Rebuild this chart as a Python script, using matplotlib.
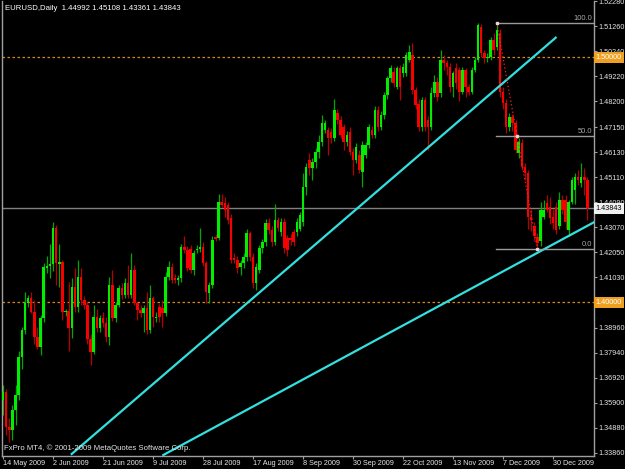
import numpy as np
import matplotlib.pyplot as plt
from matplotlib.transforms import blended_transform_factory

# EURUSD daily, 14 May 2009 - 15 Jan 2010
opens = [
    1.3600, 1.3636, 1.3493, 1.3480, 1.3561, 1.3622, 1.3779, 1.3888, 1.3996, 1.4020,
    1.3962, 1.3860, 1.3820, 1.3935, 1.4140, 1.4150, 1.4156, 1.4302, 1.4155, 1.4165,
    1.3960, 1.3966, 1.3895, 1.4064, 1.3983, 1.4105, 1.4010, 1.3990, 1.3850, 1.3799,
    1.3942, 1.3895, 1.3935, 1.3915, 1.3860, 1.4071, 1.3935, 1.3990, 1.4057, 1.4030,
    1.4078, 1.4030, 1.4132, 1.3996, 1.3969, 1.3955, 1.3976, 1.3888, 1.4017, 1.3935,
    1.3983, 1.3976, 1.3956, 1.4105, 1.4146, 1.4100, 1.4092, 1.4100, 1.4228, 1.4214,
    1.4220, 1.4133, 1.4214, 1.4220, 1.4228, 1.4160, 1.4037, 1.4071, 1.4269, 1.4262,
    1.4411, 1.4405, 1.4398, 1.4343, 1.4180, 1.4173, 1.4146, 1.4160, 1.4187, 1.4282,
    1.4187, 1.4078, 1.4133, 1.4221, 1.4248, 1.4323, 1.4296, 1.4248, 1.4337, 1.4289,
    1.4330, 1.4262, 1.4262, 1.4289, 1.4289, 1.4300, 1.4330, 1.4473, 1.4581, 1.4547,
    1.4574, 1.4615, 1.4656, 1.4704, 1.4704, 1.4697, 1.4670, 1.4772, 1.4744, 1.4717,
    1.4656, 1.4697, 1.4615, 1.4581, 1.4602, 1.4534, 1.4602, 1.4642, 1.4704, 1.4683,
    1.4785, 1.4717, 1.4765, 1.4846, 1.4914, 1.4942, 1.4880, 1.4955, 1.4935, 1.4935,
    1.4990, 1.5010, 1.4867, 1.4810, 1.4717, 1.4826, 1.4744, 1.4717, 1.4853, 1.4901,
    1.4853, 1.4990, 1.4976, 1.4962, 1.4880, 1.4955, 1.4948, 1.4860, 1.4948, 1.4880,
    1.4860, 1.4948, 1.4990, 1.5125, 1.5016, 1.4996, 1.5003, 1.5071, 1.5044, 1.5100,
    1.4860, 1.4812, 1.4717, 1.4758, 1.4731, 1.4608, 1.4649, 1.4554, 1.4527, 1.4350,
    1.4310, 1.4268, 1.4250, 1.4350, 1.4404, 1.4390, 1.4350, 1.4390, 1.4310, 1.4418,
    1.4418, 1.4296, 1.4411, 1.4459, 1.4513, 1.4486, 1.4513, 1.44992]
highs = [
    1.3663, 1.3645, 1.3530, 1.3580, 1.3663, 1.3800, 1.3900, 1.4044, 1.4030, 1.4044,
    1.4010, 1.3900, 1.3950, 1.4160, 1.4190, 1.4240, 1.4330, 1.4315, 1.4240, 1.4175,
    1.3975, 1.4085, 1.4098, 1.4139, 1.4173, 1.4140, 1.4025, 1.4000, 1.3870, 1.3990,
    1.3975, 1.3950, 1.3960, 1.3940, 1.4105, 1.4132, 1.4000, 1.4070, 1.4080, 1.4098,
    1.4153, 1.4200, 1.4153, 1.4000, 1.3990, 1.3990, 1.4044, 1.4070, 1.4025, 1.3960,
    1.3995, 1.4010, 1.4125, 1.4170, 1.4160, 1.4115, 1.4110, 1.4240, 1.4270, 1.4230,
    1.4235, 1.4215, 1.4235, 1.4302, 1.4245, 1.4170, 1.4085, 1.4270, 1.4280, 1.4443,
    1.4443, 1.4430, 1.4411, 1.4360, 1.4200, 1.4190, 1.4175, 1.4200, 1.4300, 1.4290,
    1.4200, 1.4160, 1.4235, 1.4260, 1.4340, 1.4345, 1.4310, 1.4400, 1.4350, 1.4345,
    1.4345, 1.4275, 1.4280, 1.4300, 1.4345, 1.4370, 1.4527, 1.4570, 1.4608, 1.4590,
    1.4630, 1.4683, 1.4765, 1.4745, 1.4717, 1.4710, 1.4830, 1.4790, 1.4760, 1.4730,
    1.4700, 1.4715, 1.4630, 1.4650, 1.4620, 1.4660, 1.4655, 1.4730, 1.4720, 1.4800,
    1.4800, 1.4780, 1.4860, 1.4925, 1.4970, 1.4960, 1.4965, 1.4970, 1.4975, 1.5020,
    1.5050, 1.5057, 1.4880, 1.4830, 1.4840, 1.4840, 1.4760, 1.4880, 1.4930, 1.4920,
    1.5030, 1.5010, 1.4990, 1.4975, 1.4945, 1.4975, 1.4962, 1.4962, 1.4955, 1.4890,
    1.4960, 1.5000, 1.5139, 1.5135, 1.5030, 1.5016, 1.5085, 1.5100, 1.5140, 1.5115,
    1.4880, 1.4830, 1.4775, 1.4770, 1.4745, 1.4670, 1.4665, 1.4570, 1.4540, 1.4380,
    1.4330, 1.4285, 1.4410, 1.4420, 1.4440, 1.4430, 1.4380, 1.4410, 1.4450, 1.4440,
    1.4440, 1.4420, 1.4510, 1.4530, 1.4540, 1.4570, 1.4550, 1.45108]
lows = [
    1.3540, 1.3459, 1.3432, 1.3440, 1.3500, 1.3600, 1.3730, 1.3870, 1.3980, 1.3955,
    1.3830, 1.3810, 1.3785, 1.3920, 1.4120, 1.4098, 1.4130, 1.4070, 1.4064, 1.3928,
    1.3945, 1.3800, 1.3853, 1.3960, 1.3960, 1.3990, 1.3975, 1.3830, 1.3745, 1.3790,
    1.3880, 1.3880, 1.3900, 1.3840, 1.3826, 1.3925, 1.3920, 1.3980, 1.4015, 1.4020,
    1.4020, 1.4020, 1.3990, 1.3930, 1.3940, 1.3880, 1.3870, 1.3875, 1.3900, 1.3920,
    1.3920, 1.3900, 1.3945, 1.4090, 1.4080, 1.4080, 1.4070, 1.4085, 1.4200, 1.4130,
    1.4120, 1.4110, 1.4200, 1.4205, 1.4150, 1.3996, 1.3996, 1.4060, 1.4250, 1.4255,
    1.4390, 1.4350, 1.4320, 1.4160, 1.4160, 1.4120, 1.4110, 1.4140, 1.4170, 1.4170,
    1.4060, 1.4050, 1.4120, 1.4200, 1.4230, 1.4280, 1.4230, 1.4235, 1.4290, 1.4270,
    1.4200, 1.4190, 1.4235, 1.4230, 1.4270, 1.4290, 1.4310, 1.4440, 1.4520, 1.4500,
    1.4550, 1.4590, 1.4640, 1.4690, 1.4602, 1.4650, 1.4660, 1.4730, 1.4670, 1.4622,
    1.4640, 1.4600, 1.4520, 1.4570, 1.4530, 1.4473, 1.4590, 1.4630, 1.4670, 1.4670,
    1.4700, 1.4705, 1.4750, 1.4830, 1.4900, 1.4880, 1.4870, 1.4826, 1.4920, 1.4925,
    1.4980, 1.4850, 1.4790, 1.4700, 1.4700, 1.4700, 1.4622, 1.4705, 1.4840, 1.4820,
    1.4840, 1.4950, 1.4930, 1.4860, 1.4840, 1.4870, 1.4820, 1.4850, 1.4840, 1.4845,
    1.4850, 1.4940, 1.4980, 1.5000, 1.4975, 1.4980, 1.4990, 1.5010, 1.5030, 1.4840,
    1.4790, 1.4690, 1.4700, 1.4700, 1.4610, 1.4590, 1.4540, 1.4500, 1.4300, 1.4290,
    1.4250, 1.4218, 1.4230, 1.4340, 1.4370, 1.4320, 1.4300, 1.4280, 1.4300, 1.4360,
    1.4300, 1.4270, 1.4400, 1.4400, 1.4480, 1.4470, 1.4440, 1.43361]
closes = [
    1.3636, 1.3493, 1.3480, 1.3561, 1.3622, 1.3779, 1.3888, 1.3996, 1.4020, 1.3962,
    1.3860, 1.3820, 1.3935, 1.4146, 1.4150, 1.4156, 1.4302, 1.4160, 1.4165, 1.3963,
    1.3966, 1.3895, 1.4064, 1.3983, 1.4105, 1.4010, 1.3990, 1.3850, 1.3799, 1.3942,
    1.3895, 1.3935, 1.3915, 1.3860, 1.4071, 1.3935, 1.3990, 1.4057, 1.4030, 1.4078,
    1.4030, 1.4132, 1.3996, 1.3969, 1.3955, 1.3976, 1.3888, 1.4017, 1.3942, 1.3942,
    1.3942, 1.3956, 1.4105, 1.4146, 1.4092, 1.4092, 1.4100, 1.4228, 1.4214, 1.4140,
    1.4133, 1.4200, 1.4220, 1.4228, 1.4160, 1.4044, 1.4071, 1.4255, 1.4258, 1.4411,
    1.4398, 1.4377, 1.4337, 1.4173, 1.4173, 1.4139, 1.4160, 1.4187, 1.4282, 1.4187,
    1.4078, 1.4146, 1.4221, 1.4248, 1.4323, 1.4296, 1.4248, 1.4337, 1.4303, 1.4330,
    1.4221, 1.4214, 1.4255, 1.4248, 1.4330, 1.4357, 1.4473, 1.4554, 1.4547, 1.4574,
    1.4615, 1.4656, 1.4731, 1.4731, 1.4670, 1.4670, 1.4785, 1.4744, 1.4683, 1.4656,
    1.4683, 1.4615, 1.4581, 1.4636, 1.4540, 1.4642, 1.4642, 1.4717, 1.4683, 1.4785,
    1.4717, 1.4765, 1.4846, 1.4914, 1.4955, 1.4894, 1.4955, 1.4880, 1.4962, 1.5010,
    1.5023, 1.4867, 1.4806, 1.4717, 1.4826, 1.4717, 1.4717, 1.4853, 1.4901, 1.4839,
    1.4990, 1.4976, 1.4962, 1.4880, 1.4935, 1.4894, 1.4860, 1.4948, 1.4880, 1.4860,
    1.4948, 1.4990, 1.5132, 1.5016, 1.4996, 1.5003, 1.5071, 1.5030, 1.5110, 1.4860,
    1.4812, 1.4717, 1.4758, 1.4731, 1.4622, 1.4656, 1.4554, 1.4527, 1.4350, 1.4336,
    1.4270, 1.4241, 1.4377, 1.4377, 1.4377, 1.4343, 1.4323, 1.4296, 1.4418, 1.4377,
    1.4330, 1.4411, 1.4499, 1.4513, 1.4499, 1.4513, 1.4499, 1.43843]

date_labels = ["14 May 2009", "2 Jun 2009", "21 Jun 2009", "9 Jul 2009", "28 Jul 2009",
               "17 Aug 2009", "8 Sep 2009", "30 Sep 2009", "22 Oct 2009", "13 Nov 2009",
               "7 Dec 2009", "30 Dec 2009"]
date_bars = [0, 16, 32, 48, 64, 80, 96, 112, 128, 144, 160, 176]

price_ticks = [1.52280, 1.51260, 1.50240, 1.49220, 1.48200, 1.47150, 1.46130, 1.45110,
               1.44090, 1.43070, 1.42050, 1.41030, 1.38960, 1.37940, 1.36920,
               1.35900, 1.34880, 1.33860]

levels = [1.5000, 1.4000]          # linhas horizontais laranja
bid = 1.43843
fib_hi, fib_lo = 1.5140, 1.4218    # Fibonacci (barra 158 -> barra 171)
fib_bars = [158, 171]
trend1 = ([21.98, 176.86], [1.33817, 1.50802])
trend2 = ([51.3, 189.44], [1.33776, 1.43295])

o = np.array(opens); h = np.array(highs); l = np.array(lows); c = np.array(closes)
x = np.arange(len(c))
up = c >= o

fig = plt.figure(figsize=(6.25, 4.69), dpi=100, facecolor='black')
ax = fig.add_axes([2/625, 13/469, 592/625, 455/469])
ax.set_facecolor('black')
ax.set_xlim(-0.32, 189.12)
ax.set_ylim(1.337352, 1.522992)

# linhas de nivel
for lv in levels:
    ax.axhline(lv, color='#D98A1C', lw=0.9, ls=(0, (2, 2)), zorder=1)
ax.axhline(bid, color='#808080', lw=1.0, zorder=1)

# candles
ax.vlines(x[up], l[up], h[up], color='#00A800', lw=0.9, zorder=2)
ax.vlines(x[~up], l[~up], h[~up], color='#B80000', lw=0.9, zorder=2)
body = np.maximum(np.abs(c - o), 0.0003)
ax.bar(x[up], body[up], bottom=np.minimum(o, c)[up], width=0.8, color='#00EE00', lw=0, zorder=3)
ax.bar(x[~up], body[~up], bottom=np.minimum(o, c)[~up], width=0.8, color='#F80000', lw=0, zorder=3)

# linhas de tendencia
ax.plot(*trend1, color='#33E0E0', lw=1.6, zorder=4)
ax.plot(*trend2, color='#33E0E0', lw=1.6, zorder=4)

# Fibonacci
for pct in [0.0, 50.0, 100.0]:
    p = fib_lo + (fib_hi - fib_lo) * pct / 100
    ax.plot([fib_bars[0] - 0.3, 189.12], [p, p], color='#9A9A9A', lw=1.0, zorder=4)
    ax.text(188.6, p + 0.0006, f"{pct:.1f}", color='#A8A8A8', fontsize=5.4,
            family='Liberation Sans', ha='right', va='bottom', zorder=5)
ax.plot(fib_bars, [fib_hi, fib_lo], color='#FF2020', lw=0.9, ls=(0, (1, 2)), zorder=4)
ax.plot([fib_bars[0], np.mean(fib_bars), fib_bars[1]], [fib_hi, (fib_hi + fib_lo) / 2, fib_lo],
        ls='none', marker='s', ms=2, color='#F0D0D0', zorder=5)

# eixos
ax.spines['top'].set_visible(False)
for side in ['left', 'right', 'bottom']:
    ax.spines[side].set_color('#A0A0A0')
    ax.spines[side].set_linewidth(1.0)

ax.yaxis.tick_right()
ax.set_yticks(price_ticks)
ax.set_yticklabels([f"{p:.5f}" for p in price_ticks])
ax.set_xticks(date_bars)
ax.set_xticklabels(date_labels, ha='left')
ax.tick_params(axis='both', colors='#A0A0A0', labelcolor='#E6E6E6', labelsize=5.2,
               direction='out', length=2.2, width=0.8, pad=1.0)
for t in ax.get_xticklabels() + ax.get_yticklabels():
    t.set_family('Liberation Sans')

tr = blended_transform_factory(ax.transAxes, ax.transData)
for lv in levels:
    ax.text(1.003, lv, f"{lv:.5f}", transform=tr, color='white', fontsize=5.2,
            family='Liberation Sans', va='center', ha='left', clip_on=False, zorder=6,
            bbox=dict(boxstyle='square,pad=0.25', fc='#F0A020', ec='none'))
ax.text(1.003, bid, f"{bid:.5f}", transform=tr, color='black', fontsize=5.2,
        family='Liberation Sans', va='center', ha='left', clip_on=False, zorder=6,
        bbox=dict(boxstyle='square,pad=0.25', fc='#F0F0F0', ec='none'))

fig.text(5/625, 1 - 8/469, "EURUSD,Daily  1.44992 1.45108 1.43361 1.43843",
         color='white', fontsize=5.6, family='Liberation Sans', va='center')
fig.text(4/625, 1 - 448/469, "FxPro MT4, \u00a9 2001-2009 MetaQuotes Software Corp.",
         color='#E6E6E6', fontsize=5.6, family='Liberation Sans', va='center')

fig.savefig('out.png', dpi=100, facecolor='black')
